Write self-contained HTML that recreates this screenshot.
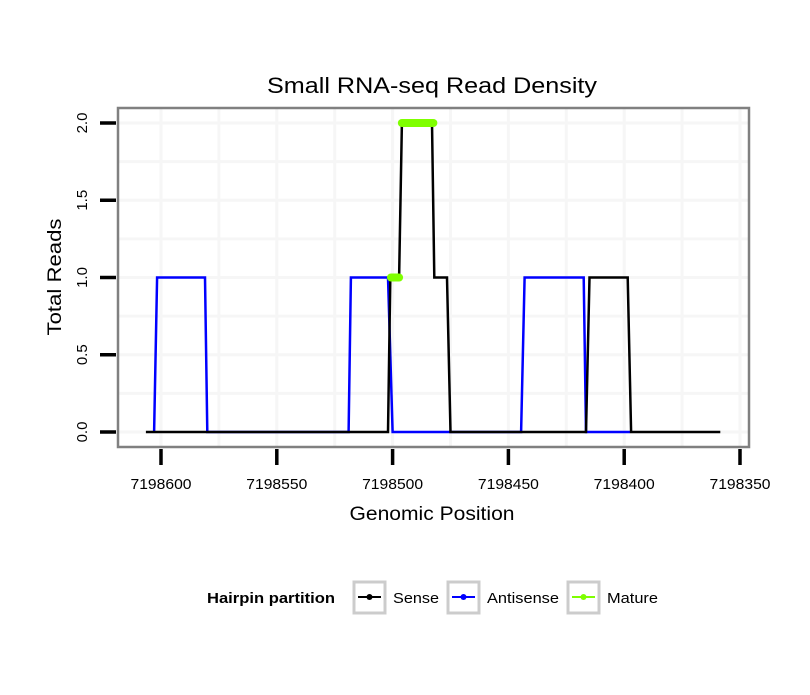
<!DOCTYPE html>
<html><head><meta charset="utf-8"><style>
body{margin:0;background:#fff;}
svg text{font-family:"Liberation Sans",Arial,sans-serif;}
</style></head><body>
<svg width="810" height="690" viewBox="0 0 810 690">
<rect width="810" height="690" fill="#fff"/>
<text x="432" y="93" font-size="22" text-anchor="middle" textLength="330" lengthAdjust="spacingAndGlyphs">Small RNA-seq Read Density</text>
<g id="grid"></g>
<g id="series"></g>
<rect x="118" y="108" width="631" height="339" fill="none" stroke="#808080" stroke-width="2.5"/>
<g id="axes"></g>
<text x="432" y="520" font-size="19" text-anchor="middle" textLength="165" lengthAdjust="spacingAndGlyphs">Genomic Position</text>
<text x="0" y="0" font-size="19" text-anchor="middle" textLength="117" lengthAdjust="spacingAndGlyphs" transform="translate(61,277) rotate(-90)">Total Reads</text>
<g>
<text x="207" y="603" font-size="15" font-weight="bold" textLength="128" lengthAdjust="spacingAndGlyphs">Hairpin partition</text>
<g>
<rect x="354" y="582" width="31" height="31" fill="#fff" stroke="#ccc" stroke-width="3"/>
<line x1="358" y1="597" x2="381" y2="597" stroke="#000" stroke-width="2"/><circle cx="369.5" cy="597" r="3" fill="#000"/>
<text x="393" y="603" font-size="15" textLength="46" lengthAdjust="spacingAndGlyphs">Sense</text></g>
<g>
<rect x="448" y="582" width="31" height="31" fill="#fff" stroke="#ccc" stroke-width="3"/>
<line x1="452" y1="597" x2="475" y2="597" stroke="#00f" stroke-width="2"/><circle cx="463.5" cy="597" r="3" fill="#00f"/>
<text x="487" y="603" font-size="15" textLength="72" lengthAdjust="spacingAndGlyphs">Antisense</text></g>
<g>
<rect x="568" y="582" width="31" height="31" fill="#fff" stroke="#ccc" stroke-width="3"/>
<line x1="572" y1="597" x2="595" y2="597" stroke="#7fff00" stroke-width="2"/><circle cx="583.5" cy="597" r="3" fill="#7fff00"/>
<text x="607" y="603" font-size="15" textLength="51" lengthAdjust="spacingAndGlyphs">Mature</text></g>
</g>
</svg>
<script>
const xTicks = [7198600, 7198550, 7198500, 7198450, 7198400, 7198350];
const yTicks = [0, 0.5, 1.0, 1.5, 2.0];
const yTickLabels = ["0.0", "0.5", "1.0", "1.5", "2.0"];
const senseX = [7198606.5, 7198502, 7198501, 7198497.2, 7198496, 7198483, 7198482, 7198476.5, 7198475, 7198416.5, 7198415, 7198398.5, 7198397, 7198358.5];
const senseY = [0, 0, 1, 1, 2, 2, 1, 1, 0, 0, 1, 1, 0, 0];
const antiX = [7198603, 7198601.7, 7198581, 7198580, 7198519, 7198518, 7198502, 7198500, 7198444.5, 7198443, 7198417.5, 7198416.5, 7198397.5];
const antiY = [0, 1, 1, 0, 0, 1, 1, 0, 0, 1, 1, 0, 0];
const matureSegStart = [7198500.7, 7198496];
const matureSegEnd = [7198497.2, 7198482.4];
const matureY = [1, 2];

const NS = "http://www.w3.org/2000/svg";
function sx(p){ return 161 + (7198600 - p) * 2.316; }
function sy(v){ return 432 - v * 154.5; }
function mk(tag, attrs, parent){ const e = document.createElementNS(NS, tag); for (const k in attrs) e.setAttribute(k, attrs[k]); parent.appendChild(e); return e; }

const grid = document.getElementById('grid');
const axes = document.getElementById('axes');
const series = document.getElementById('series');

const xMinor = [];
for (let i = 0; i < xTicks.length - 1; i++) xMinor.push((xTicks[i] + xTicks[i+1]) / 2);
xMinor.push(xTicks[0] + 25);
xTicks.concat(xMinor).forEach(p => {
  const x = sx(p);
  if (x > 118 && x < 749) {
    const g = mk('line', {x1:x, x2:x, y1:109, y2:446, stroke:'#f6f6f6', 'stroke-width':3}, grid);
    
    
  }
});
[0,0.25,0.5,0.75,1,1.25,1.5,1.75,2].forEach(v => {
  const y = sy(v);
  const g = mk('line', {x1:119, x2:748, y1:y, y2:y, stroke:'#f6f6f6', 'stroke-width':3}, grid);
  
  
});

function poly(xs, ys, color, name){
  const pts = xs.map((p,i) => sx(p).toFixed(1) + ',' + sy(ys[i]).toFixed(1)).join(' ');
  const e = mk('polyline', {points:pts, fill:'none', stroke:color, 'stroke-width':2.5}, series);
  
  
}
poly(antiX, antiY, '#0000ff', 'antisense-line');
poly(senseX, senseY, '#000000', 'sense-line');
matureSegStart.forEach((p, i) => {
  const e = mk('line', {x1:sx(p), x2:sx(matureSegEnd[i]), y1:sy(matureY[i]), y2:sy(matureY[i]), stroke:'#7fff00', 'stroke-width':8, 'stroke-linecap':'round'}, series);
  
  
});

xTicks.forEach(p => {
  const x = sx(p);
  const t = mk('line', {x1:x, x2:x, y1:449, y2:465, stroke:'#000', 'stroke-width':3.5}, axes);
  
  
  const l = mk('text', {x:x, y:489, 'font-size':15, 'text-anchor':'middle', textLength:61, lengthAdjust:'spacingAndGlyphs'}, axes);
  l.textContent = String(p);
  
  
});
yTicks.forEach((v, i) => {
  const y = sy(v);
  const t = mk('line', {x1:100, x2:116, y1:y, y2:y, stroke:'#000', 'stroke-width':3.5}, axes);
  
  
  const l = mk('text', {x:0, y:0, 'font-size':15, 'text-anchor':'middle', transform:'translate(87,' + y + ') rotate(-90)'}, axes);
  l.textContent = yTickLabels[i];
  
  
});
</script>
</body></html>
